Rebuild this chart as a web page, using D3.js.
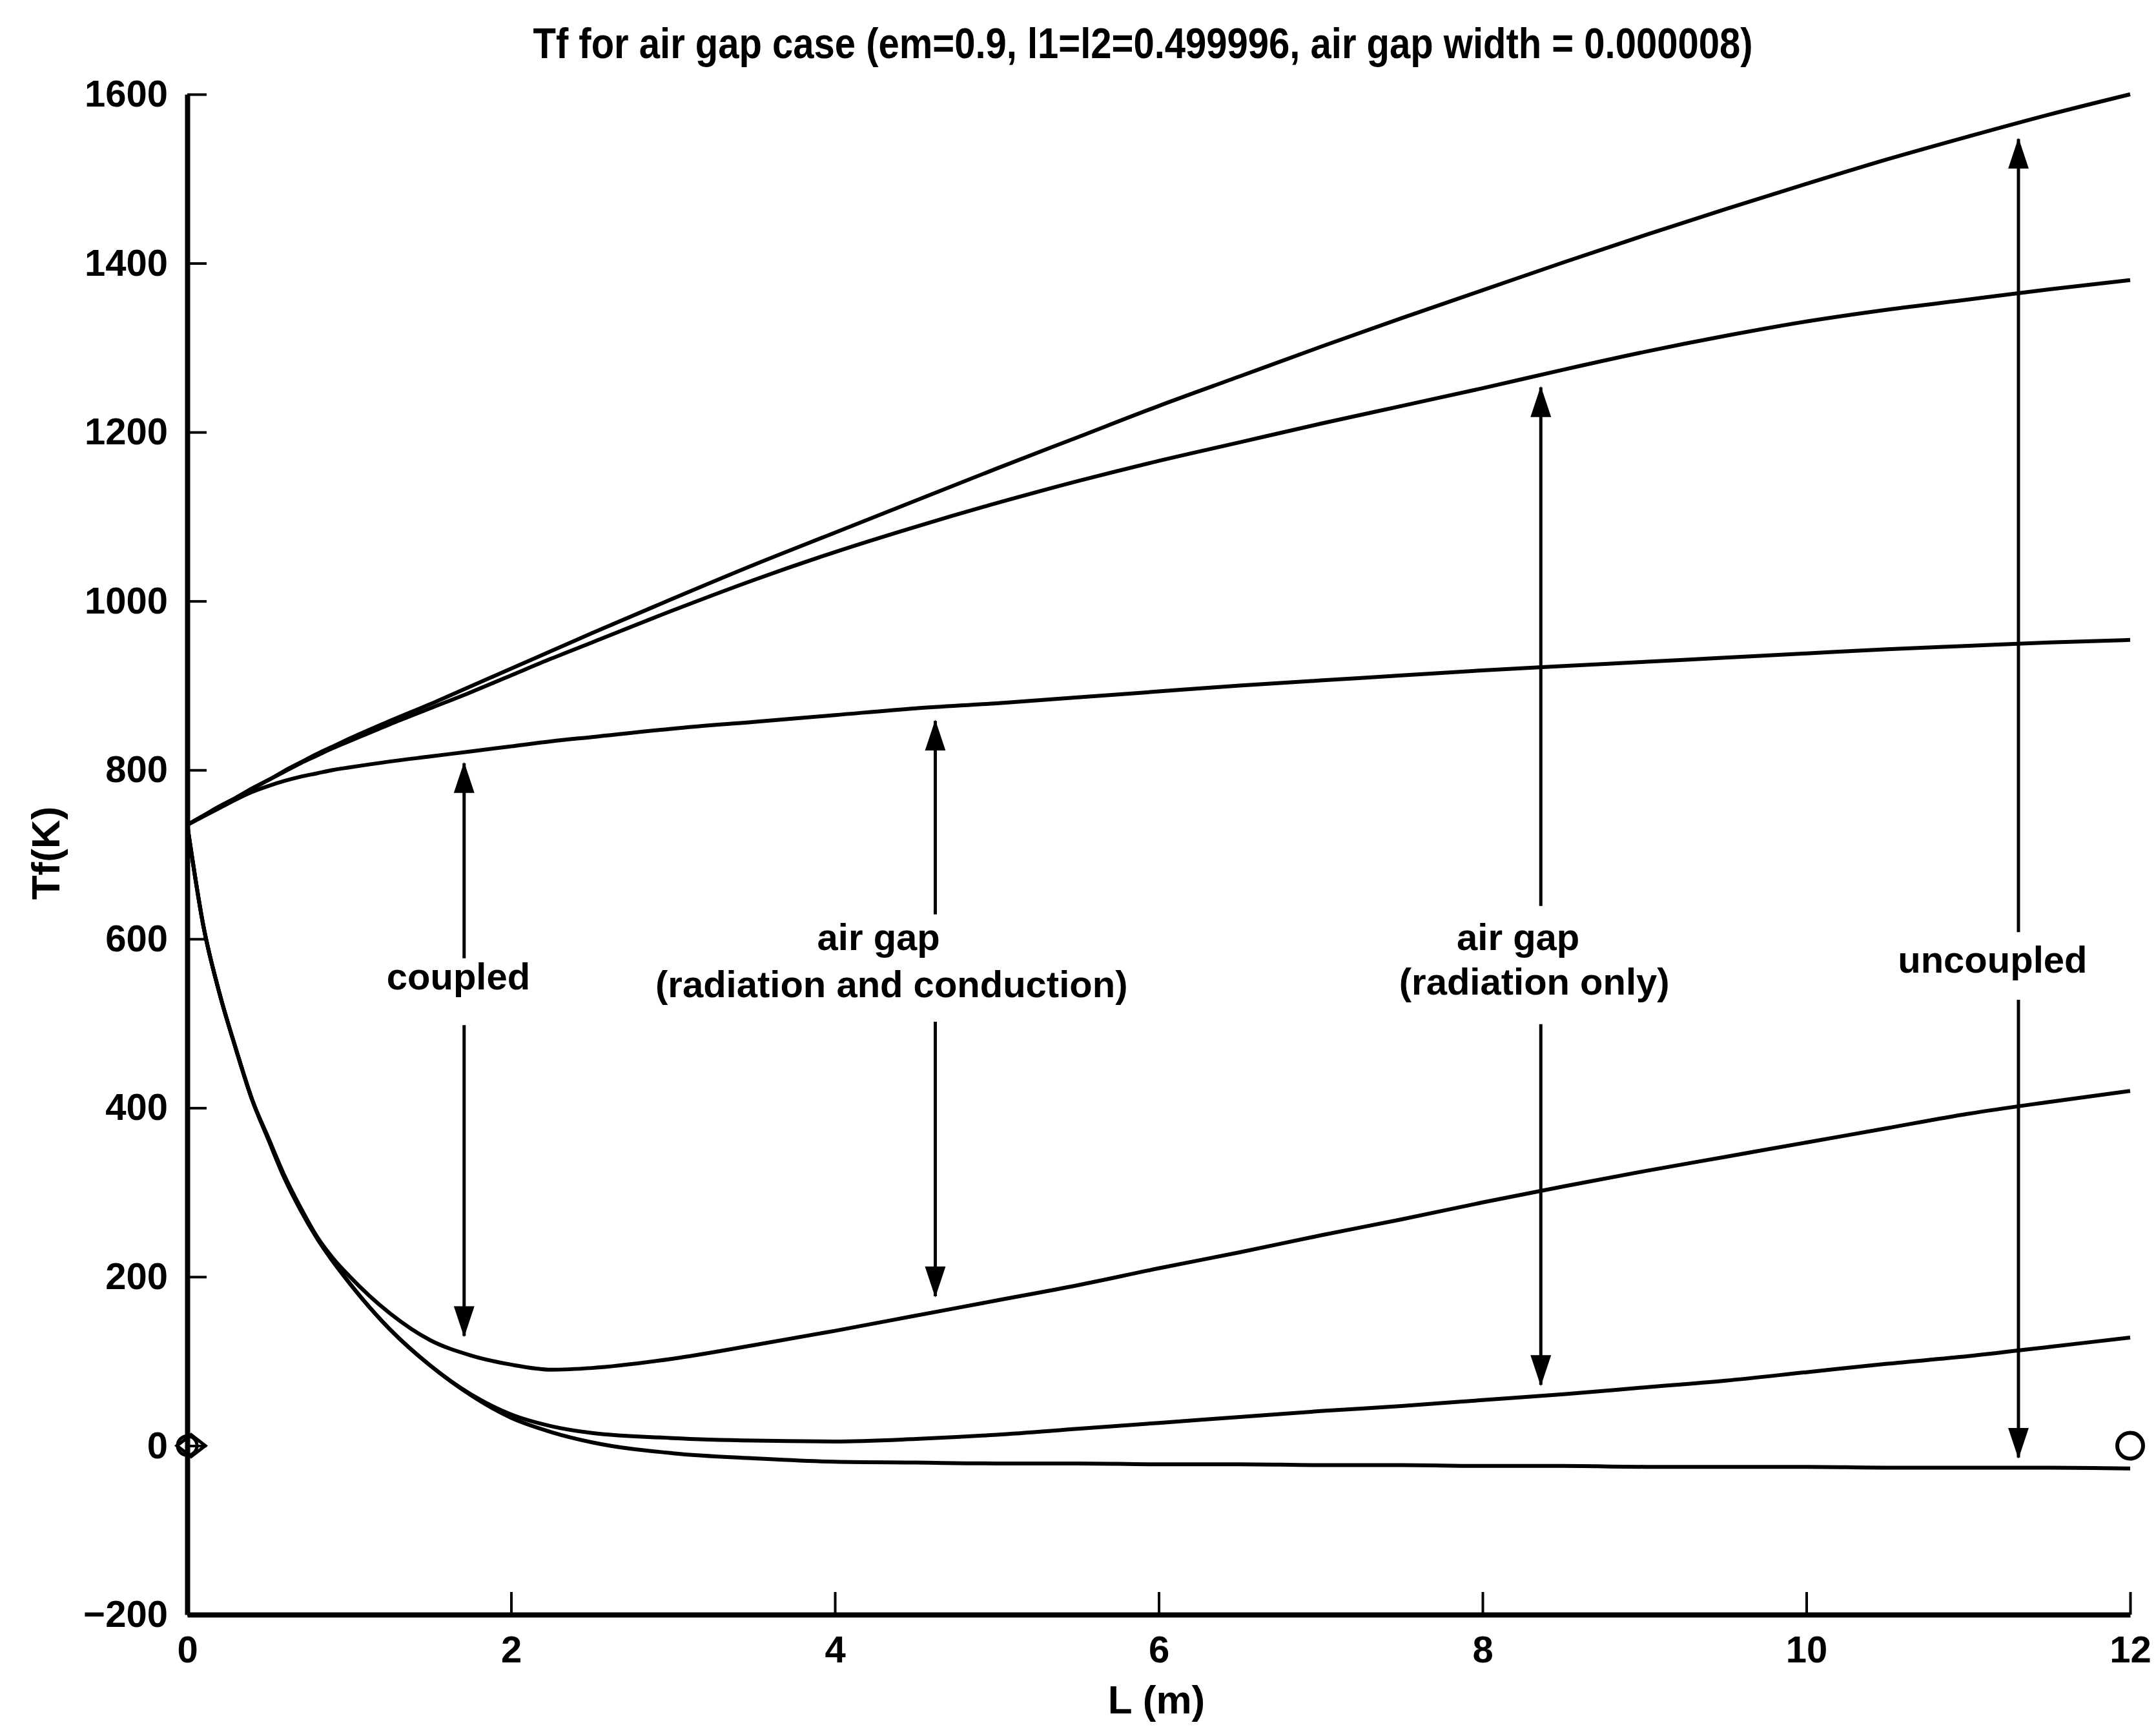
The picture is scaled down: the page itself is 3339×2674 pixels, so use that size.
<!DOCTYPE html>
<html>
<head>
<meta charset="utf-8">
<script src="https://cdn.jsdelivr.net/npm/d3@7"></script>
<style>
  body { margin: 0; background: #fff; }
  text { font-family: "Liberation Sans", Arial, sans-serif; font-weight: bold; fill: #000; }
</style>
</head>
<body>
<svg id="chart"></svg>
<script>
// L (m) sample points shared by all curves
const lengths = [0, 0.1, 0.2, 0.3, 0.4, 0.5, 0.6, 0.7, 0.8, 0.9, 1.0, 1.25, 1.5, 1.75, 2.0, 2.25, 2.5, 3.0, 3.5, 4.0,
                 4.5, 5.0, 5.5, 6.0, 6.5, 7.0, 7.5, 8.0, 8.5, 9.0, 9.5, 10.0, 10.5, 11.0, 11.5, 12.0];

// upper branches (Tf, K)
const uncoupledHot = [735, 746, 757, 767, 778, 788, 799, 809, 819, 828, 837, 858, 878, 899, 920, 941, 962, 1003, 1043, 1081,
                      1119, 1157, 1194, 1231, 1266, 1301, 1335, 1368, 1401, 1433, 1464, 1494, 1523, 1550, 1576, 1600];
const radiationHot = [735, 746, 757, 767, 778, 788, 798, 808, 817, 826, 834, 854, 873, 892, 912, 932, 951, 989, 1025, 1058,
                      1088, 1116, 1142, 1166, 1188, 1210, 1231, 1252, 1274, 1295, 1314, 1331, 1345, 1357, 1369, 1380];
const coupledHot = [735, 745, 755, 765, 774, 781, 787, 792, 796, 800, 803, 810, 816, 822, 828, 834, 839, 849, 857, 865,
                    873, 879, 886, 893, 900, 906, 912, 918, 923, 928, 933, 938, 943, 947, 951, 954];

// lower branches (Tf, K)
const coupledCold = [735, 615, 535, 470, 410, 365, 320, 282, 248, 222, 201, 157, 125, 107, 96, 90, 92, 103, 119, 136,
                     154, 172, 190, 210, 229, 249, 268, 288, 307, 325, 342, 359, 376, 393, 407, 420];
const radiationCold = [735, 615, 535, 470, 410, 363, 317, 279, 246, 218, 193, 138, 95, 61, 37, 23, 15, 9, 6, 5,
                       8, 13, 20, 27, 34, 41, 47, 54, 61, 69, 77, 87, 97, 106, 117, 128];
const uncoupledCold = [735, 615, 535, 470, 410, 363, 317, 279, 246, 218, 193, 138, 95, 60, 33, 16, 4, -9, -15, -19,
                       -20, -21, -21, -22, -22, -23, -23, -24, -24, -25, -25, -25, -26, -26, -26, -27];

const xTicks = [0, 2, 4, 6, 8, 10, 12];
const yTicks = [-200, 0, 200, 400, 600, 800, 1000, 1200, 1400, 1600];

// double arrows: L position, upper tip / tail, lower tail / tip (K)
const arrowL = [1.71, 4.62, 8.36, 11.31];
const arrowTopTip = [808, 858, 1253, 1547];
const arrowTopTail = [577, 629, 639, 608];
const arrowBottomTail = [498, 502, 499, 528];
const arrowBottomTip = [130, 177, 72, -14];

const labelText = ["coupled", "air gap", "(radiation and conduction)", "air gap", "(radiation only)", "uncoupled"];
const labelL = [1.675, 4.27, 4.35, 8.22, 8.32, 11.15];
const labelT = [540, 587, 531, 587, 534, 560];

const title = "Tf for air gap case (em=0.9, l1=l2=0.499996, air gap width = 0.000008)";

const width = 3339, height = 2674;

const svg = d3.select("#chart").attr("width", width).attr("height", height);
svg.append("rect").attr("width", width).attr("height", height).attr("fill", "#fff");

const x = d3.scaleLinear().domain([0, 12]).range([290, 3299]);
const y = d3.scaleLinear().domain([-200, 1600]).range([2500, 146]);

let series = [uncoupledHot, radiationHot, coupledHot, coupledCold, radiationCold, uncoupledCold];

let line = d3.line()
    .x(function (d, i) { return x(lengths[i]); })
    .y(function (d) { return y(d); })
    .curve(d3.curveMonotoneX);

svg.append("g")
    .selectAll("path")
    .data(series)
    .enter().append("path")
    .attr("d", line)
    .attr("fill", "none")
    .attr("stroke", "#000")
    .attr("stroke-width", 6)
    .attr("stroke-linejoin", "round");

// axes
let xAxis = svg.append("g")
    .attr("transform", "translate(0," + y(-200) + ")")
    .call(d3.axisBottom(x).tickValues(xTicks).tickSize(-35).tickSizeOuter(0).tickPadding(33).tickFormat(d3.format("d")));

let yAxis = svg.append("g")
    .attr("transform", "translate(" + x(0) + ",0)")
    .call(d3.axisLeft(y).tickValues(yTicks).tickSize(-30).tickSizeOuter(0).tickPadding(30).tickFormat(d3.format("d")));

[xAxis, yAxis].forEach(function (g) {
    g.attr("font-size", 58);
    g.select(".domain").attr("stroke-width", 8).attr("stroke", "#000");
    g.selectAll(".tick line").attr("stroke-width", 4).attr("stroke", "#000");
});

// arrowheads
let defs = svg.append("defs");
defs.append("marker")
    .attr("id", "head")
    .attr("markerUnits", "userSpaceOnUse")
    .attr("viewBox", "0 0 48 36")
    .attr("refX", 46).attr("refY", 18)
    .attr("markerWidth", 48).attr("markerHeight", 36)
    .attr("orient", "auto")
    .append("path")
    .attr("d", "M0,2 L48,18 L0,34 Z")
    .attr("fill", "#000");

let arrows = svg.append("g").attr("stroke", "#000").attr("stroke-width", 5);
for (let i = 0; i < arrowL.length; i++) {
    arrows.append("line")
        .attr("x1", x(arrowL[i])).attr("y1", y(arrowTopTail[i]))
        .attr("x2", x(arrowL[i])).attr("y2", y(arrowTopTip[i]))
        .attr("marker-end", "url(#head)");
    arrows.append("line")
        .attr("x1", x(arrowL[i])).attr("y1", y(arrowBottomTail[i]))
        .attr("x2", x(arrowL[i])).attr("y2", y(arrowBottomTip[i]))
        .attr("marker-end", "url(#head)");
}

svg.append("g")
    .selectAll("text")
    .data(labelText)
    .enter().append("text")
    .attr("x", function (d, i) { return x(labelL[i]); })
    .attr("y", function (d, i) { return y(labelT[i]); })
    .attr("text-anchor", "middle")
    .attr("font-size", 58)
    .text(function (d) { return d; });

// end markers at Tf = 0
let mx = x(0), my = y(0);
svg.append("circle")
    .attr("cx", mx).attr("cy", my).attr("r", 15)
    .attr("fill", "none").attr("stroke", "#000").attr("stroke-width", 5);
svg.append("path")
    .attr("d", d3.line()([[mx - 16, my], [mx + 6, my - 17], [mx + 28, my], [mx + 6, my + 17]]) + "Z")
    .attr("fill", "none").attr("stroke", "#000").attr("stroke-width", 5);
svg.append("circle")
    .attr("cx", x(12)).attr("cy", y(0)).attr("r", 20)
    .attr("fill", "none").attr("stroke", "#000").attr("stroke-width", 6);

// titles
svg.append("text")
    .attr("x", 1770).attr("y", 90)
    .attr("text-anchor", "middle")
    .attr("font-size", 66)
    .attr("textLength", 1889)
    .attr("lengthAdjust", "spacingAndGlyphs")
    .text(title);

svg.append("text")
    .attr("x", 1791).attr("y", 2653)
    .attr("text-anchor", "middle")
    .attr("font-size", 62)
    .text("L (m)");

svg.append("text")
    .attr("transform", "translate(92,1321) rotate(-90)")
    .attr("text-anchor", "middle")
    .attr("font-size", 62)
    .text("Tf(K)");
</script>
</body>
</html>
